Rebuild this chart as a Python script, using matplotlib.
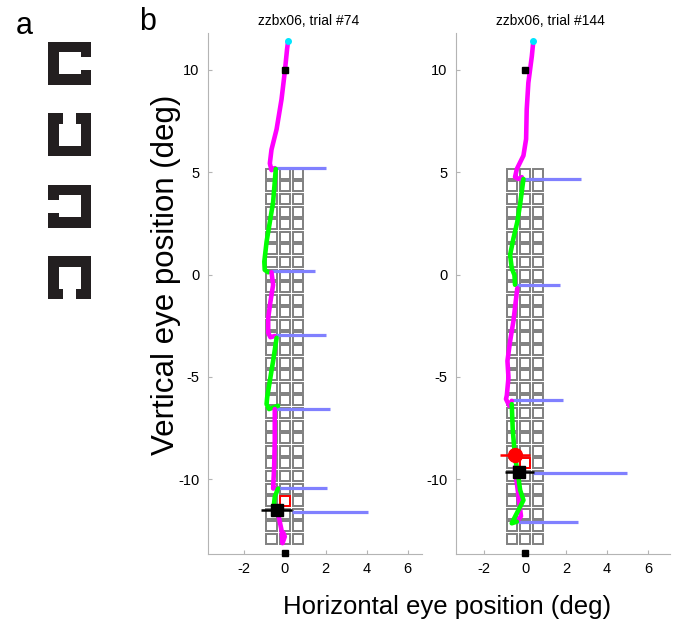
import numpy as np
import matplotlib
matplotlib.use('Agg')
import matplotlib.pyplot as plt
from matplotlib.patches import Rectangle

plt.rcParams['font.family'] = ['Liberation Sans', 'DejaVu Sans']
plt.rcParams['axes.unicode_minus'] = False

# ---- data ----
titles = ['zzbx06, trial #74', 'zzbx06, trial #144']
xticks = [-2, 0, 2, 4, 6]
yticks = [-10, -5, 0, 5, 10]
xlims = [(-3.75, 6.7), (-3.37, 7.07)]
ylim = (-13.65, 11.8)

grid_cols = [-0.65, 0.0, 0.65]
grid_top = 4.92
grid_step = 0.615
grid_rows = 30
grid_size = 0.49

# red target square (column index, row index)
target = [(1, 26), (1, 23)]

# fixation squares
fix_x = [0.0, 0.0]
fix_y = [10.0, -13.6]

# panel 1 trajectory segments (x, y)
L_mag1 = [(0.16, 11.4), (0.11, 11.0), (0.0, 9.9), (-0.16, 8.56), (-0.4, 7.1), (-0.65, 6.1),
          (-0.73, 5.43), (-0.65, 5.1), (-0.49, 5.2)]
L_grn1 = [(-0.44, 5.16), (-0.57, 3.54), (-0.73, 2.57), (-0.89, 1.6), (-1.0, 0.63),
          (-0.98, 0.23), (-0.81, 0.11)]
L_mag2 = [(-0.65, 0.11), (-0.57, -0.5), (-0.7, -1.31), (-0.81, -2.12), (-0.81, -2.85),
          (-0.7, -3.06), (-0.49, -3.0)]
L_grn2 = [(-0.4, -3.09), (-0.57, -4.22), (-0.73, -5.19), (-0.86, -6.0), (-0.89, -6.33),
          (-0.77, -6.57), (-0.33, -6.41)]
L_mag3 = [(-0.49, -6.57), (-0.49, -8.1), (-0.52, -9.4), (-0.57, -10.45), (-0.4, -10.42)]
L_grn3 = [(-0.33, -10.45), (-0.49, -10.86), (-0.54, -11.34), (-0.4, -11.59)]
L_mag4 = [(-0.33, -11.67), (-0.16, -12.48), (-0.11, -13.12), (0.0, -12.8), (-0.08, -12.6)]

# panel 2 trajectory segments
R_mag1 = [(0.4, 11.39), (0.33, 10.67), (0.16, 9.37), (0.08, 8.07), (0.05, 6.62), (-0.08, 5.81),
          (-0.4, 5.16), (-0.49, 4.76), (-0.33, 4.67), (-0.16, 4.76)]
R_grn1 = [(-0.08, 4.67), (-0.24, 3.45), (-0.38, 2.57), (-0.57, 1.76), (-0.73, 0.96),
          (-0.65, 0.31), (-0.52, -0.02), (-0.49, -0.5)]
R_mag2 = [(-0.38, -0.67), (-0.57, -2.28), (-0.73, -3.25), (-0.86, -4.22), (-0.81, -5.03),
          (-0.89, -5.9), (-0.93, -6.08), (-0.77, -6.41), (-0.65, -6.17)]
R_mag3 = [(-0.4, -12.07), (-0.2, -11.8), (-0.3, -11.0), (-0.4, -10.2), (-0.5, -9.4)]
R_grn2 = [(-0.65, -6.33), (-0.6, -7.62), (-0.49, -8.92), (-0.33, -9.89), (-0.24, -10.53),
          (-0.08, -11.02), (-0.24, -11.34), (-0.49, -11.83), (-0.65, -12.15), (-0.4, -12.07)]

L_segments = [('m', L_mag1), ('g', L_grn1), ('m', L_mag2), ('g', L_grn2),
              ('m', L_mag3), ('g', L_grn3), ('m', L_mag4)]
R_segments = [('m', R_mag1), ('g', R_grn1), ('m', R_mag2), ('m', R_mag3), ('g', R_grn2)]

# blue saccade-time bars: y, x start, x end
L_bar_y = [5.2, 0.15, -2.97, -6.57, -10.42, -11.59]
L_bar_x0 = [-0.57, -0.65, -0.49, -0.57, -0.4, 0.33]
L_bar_x1 = [2.0, 1.46, 2.03, 2.2, 2.06, 4.06]
R_bar_y = [4.67, -0.5, -6.13, -9.69, -12.07]
R_bar_x0 = [-0.24, -0.49, -0.73, 0.4, -0.33]
R_bar_x1 = [2.73, 1.7, 1.84, 4.96, 2.6]

# black mean marker with horizontal error bar: x, y, xlo, xhi
L_black = (-0.4, -11.5, -1.14, 0.33)
R_black = (-0.28, -9.65, -1.0, 0.45)
R_red = (-0.49, -8.83, -1.22, 0.24)

# panel a: gap side of each C shape
c_gaps = ['right', 'top', 'left', 'bottom']

colors = {'m': '#ff00ff', 'g': '#00ff00'}
blue = '#8080ff'
gray_ax = '#b4b4b4'

fig = plt.figure(figsize=(6.83, 6.36), dpi=100)
W, H = 683.0, 636.0

ax_pos = [[208 / W, (H - 554) / H, 214 / W, 521 / H],
          [456 / W, (H - 554) / H, 214 / W, 521 / H]]
title_x = [0.47, 0.44]

panels = [
    (L_segments, L_bar_y, L_bar_x0, L_bar_x1, L_black, None),
    (R_segments, R_bar_y, R_bar_x0, R_bar_x1, R_black, R_red),
]

for i, (segs, by, bx0, bx1, blk, red) in enumerate(panels):
    ax = fig.add_axes(ax_pos[i])
    ax.set_xlim(*xlims[i])
    ax.set_ylim(*ylim)

    # grid of squares
    for r in range(grid_rows):
        yc = grid_top - r * grid_step
        for c, xc in enumerate(grid_cols):
            ax.add_patch(Rectangle((xc - grid_size / 2, yc - grid_size / 2), grid_size, grid_size,
                                   fill=False, edgecolor='#808080', linewidth=1.4, zorder=1))
    tc, tr = target[i]
    yc = grid_top - tr * grid_step
    ax.add_patch(Rectangle((grid_cols[tc] - grid_size / 2, yc - grid_size / 2), grid_size, grid_size,
                           fill=False, edgecolor='red', linewidth=1.4, zorder=2))

    # blue bars
    ax.hlines(by, bx0, bx1, colors=blue, linewidth=2.3, zorder=3)

    # trajectories
    for ck, pts in segs:
        xs = [p[0] for p in pts]
        ys = [p[1] for p in pts]
        ax.plot(xs, ys, color=colors[ck], linewidth=3.3, solid_capstyle='round',
                solid_joinstyle='round', zorder=4)

    # start point
    x0, y0 = segs[0][1][0]
    ax.plot([x0], [y0], 'o', color='#00e5ff', markersize=4, zorder=5)

    # fixation squares
    ax.plot(fix_x, fix_y, 's', color='black', markersize=5, zorder=5, clip_on=False)

    if red is not None:
        ax.hlines(red[1], red[2], red[3], colors='red', linewidth=1.8, zorder=6)
        ax.plot([red[0]], [red[1]], 'o', color='red', markersize=10, zorder=6)
    ax.hlines(blk[1], blk[2], blk[3], colors='black', linewidth=1.8, zorder=7)
    ax.plot([blk[0]], [blk[1]], 's', color='black', markersize=8.5, zorder=7)

    ax.set_xticks(xticks)
    ax.set_yticks(yticks)
    ax.tick_params(direction='in', length=3, color=gray_ax, labelsize=10.5, pad=6)
    for s in ['top', 'right']:
        ax.spines[s].set_visible(False)
    for s in ['left', 'bottom']:
        ax.spines[s].set_color(gray_ax)
        ax.spines[s].set_linewidth(0.8)
    ax.text(title_x[i], 1.023, titles[i], transform=ax.transAxes, ha='center', va='center',
            fontsize=10)

# labels
fig.text(166 / W, 1 - 275 / H, 'Vertical eye position (deg)', rotation=90, ha='center',
         va='center', fontsize=22.5)
fig.text(447 / W, 1 - 607 / H, 'Horizontal eye position (deg)', ha='center', va='center',
         fontsize=18.5)
fig.text(24 / W, 1 - 26 / H, 'a', ha='center', va='center', fontsize=22)
fig.text(148 / W, 1 - 22 / H, 'b', ha='center', va='center', fontsize=22)

# panel a: C shapes drawn in pixel coordinates
axa = fig.add_axes([0, 0, 1, 1])
axa.set_xlim(0, W)
axa.set_ylim(H, 0)
axa.axis('off')
axa.patch.set_alpha(0)
size, th, gap = 43.0, 10.5, 13.0
cx = 69.5
for k, side in enumerate(c_gaps):
    cy = 63 + k * 71.5
    x0, y0 = cx - size / 2, cy - size / 2
    axa.add_patch(Rectangle((x0, y0), size, size, color='#231f20', lw=0))
    axa.add_patch(Rectangle((x0 + th, y0 + th), size - 2 * th, size - 2 * th, color='white', lw=0))
    if side == 'right':
        axa.add_patch(Rectangle((x0 + size - th - 1, cy - gap / 2), th + 2, gap, color='white', lw=0))
    elif side == 'left':
        axa.add_patch(Rectangle((x0 - 1, cy - gap / 2), th + 2, gap, color='white', lw=0))
    elif side == 'top':
        axa.add_patch(Rectangle((cx - gap / 2, y0 - 1), gap, th + 2, color='white', lw=0))
    else:
        axa.add_patch(Rectangle((cx - gap / 2, y0 + size - th - 1), gap, th + 2, color='white', lw=0))

fig.savefig('out.png', dpi=100)
